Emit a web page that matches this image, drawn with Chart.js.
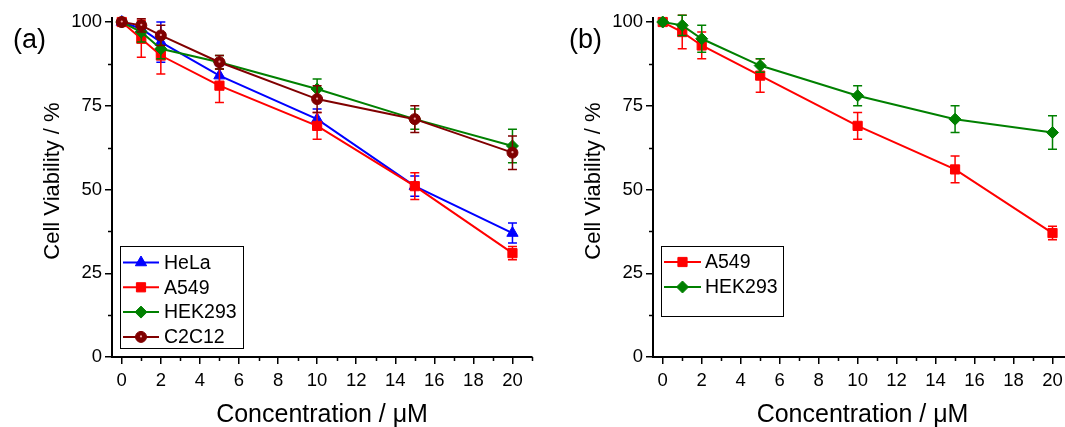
<!DOCTYPE html>
<html>
<head>
<meta charset="utf-8">
<title>Cell viability vs concentration</title>
<script src="https://cdn.jsdelivr.net/npm/chart.js@4.4.1/dist/chart.umd.min.js"></script>
<style>
  html, body { margin: 0; padding: 0; background: #fff; overflow: hidden; width: 1065px; height: 427px; }
  canvas { position: absolute; top: 0; }
  #panelA { left: 0; }
  #panelB { left: 545px; }
</style>
</head>
<body>
<canvas id="panelA" width="545" height="427"></canvas>
<canvas id="panelB" width="540" height="427"></canvas>
<script>
// Concentrations (µM) and tick positions
const concentration = [0, 1, 2, 5, 10, 15, 20];
const xTickValues = [0, 2, 4, 6, 8, 10, 12, 14, 16, 18, 20];
const xMinorValues = [1, 3, 5, 7, 9, 11, 13, 15, 17, 19, 21];
const yTickValues = [0, 25, 50, 75, 100];
const yMinorValues = [12.5, 37.5, 62.5, 87.5];

// Panel (a): viability (%) and standard deviations
const helaA = [100, 98, 94, 84, 71, 51, 37];
const helaAErr = [0, 2, 6, 3, 3, 3, 3];
const a549A = [100, 95, 90, 81, 69, 51, 31];
const a549AErr = [0, 5.5, 5.5, 5, 4, 4, 2];
const hek293A = [100, 97, 92, 88, 80, 71, 63];
const hek293AErr = [0, 3, 3, 2, 3, 3, 5];
const c2c12A = [100, 99, 96, 88, 77, 71, 61];
const c2c12AErr = [0, 2, 3, 2, 4, 4, 5];

// Panel (b)
const a549B = [100, 97, 93, 84, 69, 56, 37];
const a549BErr = [0, 5, 4, 5, 4, 4, 2];
const hek293B = [100, 99, 95, 87, 78, 71, 67];
const hek293BErr = [0, 3, 4, 2, 3, 4, 5];

const FONT = "'Liberation Sans', Arial, Helvetica, sans-serif";
const GLOSS = 'rgba(255,190,190,0.85)';

function toPoints(values) {
  return concentration.map((c, i) => ({ x: c, y: values[i] }));
}

function series(label, values, errors, color, style, radius, order, extra) {
  return Object.assign({
    label,
    data: toPoints(values),
    errors,
    borderColor: color,
    backgroundColor: color,
    pointBackgroundColor: color,
    pointBorderColor: color,
    pointStyle: style,
    pointRadius: radius,
    pointBorderWidth: 1,
    borderWidth: 2,
    tension: 0,
    clip: false,
    order
  }, extra || {});
}

// Marker drawing for the framed legend (same geometry as Chart.js)
function drawMarker(ctx, style, radius, x, y, color) {
  ctx.fillStyle = color; ctx.strokeStyle = color; ctx.lineWidth = 1;
  if (Chart.helpers && Chart.helpers.drawPoint) {
    Chart.helpers.drawPoint(ctx, { pointStyle: style, radius, rotation: 0, borderWidth: 1 }, x, y);
    return;
  }
  ctx.beginPath();
  if (style === 'rect') {
    const s = radius * Math.SQRT1_2;
    ctx.rect(x - s, y - s, 2 * s, 2 * s);
  } else if (style === 'rectRot') {
    ctx.moveTo(x, y - radius); ctx.lineTo(x + radius, y); ctx.lineTo(x, y + radius); ctx.lineTo(x - radius, y); ctx.closePath();
  } else if (style === 'triangle') {
    const h = radius * Math.sin(Math.PI / 3);
    ctx.moveTo(x, y - radius); ctx.lineTo(x + h, y + radius / 2); ctx.lineTo(x - h, y + radius / 2); ctx.closePath();
  } else {
    ctx.arc(x, y, radius, 0, Math.PI * 2);
  }
  ctx.fill(); ctx.stroke();
}

// Vertical error bars with caps, plus a small glossy spot on shaded markers
const errorBars = {
  id: 'errorBars',
  afterDatasetDraw(chart, args) {
    const ds = chart.data.datasets[args.index];
    const { ctx, scales: { x, y } } = chart;
    ctx.save();
    if (ds.errors) {
      ctx.strokeStyle = ds.borderColor;
      ctx.lineWidth = 1.5;
      ctx.beginPath();
      ds.data.forEach((p, i) => {
        const e = ds.errors[i];
        if (!e) return;
        const px = x.getPixelForValue(p.x);
        const top = y.getPixelForValue(p.y + e);
        const bot = y.getPixelForValue(p.y - e);
        ctx.moveTo(px, top); ctx.lineTo(px, bot);
        ctx.moveTo(px - 4.5, top); ctx.lineTo(px + 4.5, top);
        ctx.moveTo(px - 4.5, bot); ctx.lineTo(px + 4.5, bot);
      });
      ctx.stroke();
    }
    if (ds.highlight) {
      ctx.fillStyle = GLOSS;
      args.meta.data.forEach(pt => {
        ctx.beginPath();
        ctx.arc(pt.x, pt.y - 0.5, 1.1, 0, Math.PI * 2);
        ctx.fill();
      });
    }
    ctx.restore();
  }
};

// Short minor tick marks on both axes
const minorTicks = {
  id: 'minorTicks',
  afterDraw(chart) {
    const { ctx, chartArea: a, scales: { x, y } } = chart;
    ctx.save();
    ctx.strokeStyle = '#000';
    ctx.lineWidth = 1.5;
    ctx.beginPath();
    xMinorValues.forEach(v => {
      if (v < x.min || v > x.max) return;
      const px = Math.round(x.getPixelForValue(v)) + 0.5;
      ctx.moveTo(px, a.bottom); ctx.lineTo(px, a.bottom + 4);
    });
    yMinorValues.forEach(v => {
      const py = Math.round(y.getPixelForValue(v)) + 0.5;
      ctx.moveTo(a.left, py); ctx.lineTo(a.left - 4, py);
    });
    ctx.stroke();
    ctx.restore();
  }
};

// Axis titles, panel letter and the framed legend
const panelDecor = {
  id: 'panelDecor',
  afterDraw(chart, args, opts) {
    const { ctx, chartArea: a } = chart;
    ctx.save();
    ctx.fillStyle = '#000';
    // panel letter
    ctx.font = `27px ${FONT}`;
    ctx.textAlign = 'center';
    ctx.textBaseline = 'middle';
    ctx.fillText(opts.letter, opts.letterX, opts.letterY);
    // x title
    ctx.font = `25px ${FONT}`;
    ctx.textBaseline = 'alphabetic';
    ctx.fillText('Concentration / \u03BCM', (a.left + a.right) / 2, opts.xTitleY);
    // y title
    ctx.save();
    ctx.translate(opts.yTitleX, opts.yTitleY);
    ctx.rotate(-Math.PI / 2);
    ctx.font = `22px ${FONT}`;
    ctx.textBaseline = 'alphabetic';
    ctx.fillText('Cell Viability / %', 0, 0);
    ctx.restore();
    // legend box
    const L = opts.legend;
    ctx.strokeStyle = '#000';
    ctx.lineWidth = 1;
    ctx.strokeRect(L.x + 0.5, L.y + 0.5, L.w, L.h);
    ctx.font = `19.5px ${FONT}`;
    ctx.textAlign = 'left';
    ctx.textBaseline = 'middle';
    chart.data.datasets.forEach((ds, i) => {
      const ry = L.firstRow + i * L.rowGap;
      ctx.strokeStyle = ds.borderColor;
      ctx.lineWidth = 2;
      ctx.beginPath();
      ctx.moveTo(L.lineX1, ry); ctx.lineTo(L.lineX2, ry);
      ctx.stroke();
      const mx = (L.lineX1 + L.lineX2) / 2;
      drawMarker(ctx, ds.pointStyle, ds.pointRadius, mx, ry, ds.borderColor);
      if (ds.highlight) {
        ctx.fillStyle = GLOSS;
        ctx.beginPath(); ctx.arc(mx, ry - 0.5, 1.1, 0, Math.PI * 2); ctx.fill();
      }
      ctx.fillStyle = '#000';
      ctx.fillText(ds.label, L.textX, ry + 1);
    });
    ctx.restore();
  }
};

function makeOptions(yWidth, rightPad, decor) {
  return {
    responsive: false,
    animation: false,
    devicePixelRatio: 1,
    layout: { padding: { left: 0, top: 18, right: rightPad, bottom: 0 } },
    plugins: {
      legend: { display: false },
      tooltip: { enabled: false },
      panelDecor: decor
    },
    scales: {
      x: {
        type: 'linear',
        min: -0.5,
        max: 21,
        afterBuildTicks: s => { s.ticks = xTickValues.map(v => ({ value: v })); },
        afterFit: s => { s.height = 70; },
        border: { display: true, color: '#000', width: 2 },
        grid: { drawOnChartArea: false, drawTicks: true, tickLength: 7, color: '#000', lineWidth: 1.5 },
        ticks: { color: '#000', padding: 6, maxRotation: 0, autoSkip: false, font: { family: FONT, size: 18.5 } }
      },
      y: {
        type: 'linear',
        min: 0,
        max: 101.2,
        afterBuildTicks: s => { s.ticks = yTickValues.map(v => ({ value: v })); },
        afterFit: s => { s.width = yWidth; },
        border: { display: true, color: '#000', width: 2 },
        grid: { drawOnChartArea: false, drawTicks: true, tickLength: 7, color: '#000', lineWidth: 1.5 },
        ticks: { color: '#000', padding: 3, autoSkip: false, font: { family: FONT, size: 18.5 } }
      }
    }
  };
}

new Chart(document.getElementById('panelA'), {
  type: 'line',
  data: {
    datasets: [
      series('HeLa', helaA, helaAErr, '#0000ff', 'triangle', 6.5, 4),
      series('A549', a549A, a549AErr, '#ff0000', 'rect', 6.5, 3),
      series('HEK293', hek293A, hek293AErr, '#008000', 'rectRot', 6, 2),
      series('C2C12', c2c12A, c2c12AErr, '#800000', 'circle', 5.5, 1, { highlight: true })
    ]
  },
  options: makeOptions(112, 13, {
    letter: '(a)', letterX: 29.5, letterY: 41,
    xTitleY: 422, yTitleX: 59, yTitleY: 181,
    legend: { x: 120, y: 246, w: 123, h: 102, firstRow: 262.5, rowGap: 24.8, lineX1: 123, lineX2: 159, textX: 164 }
  }),
  plugins: [errorBars, minorTicks, panelDecor]
});

new Chart(document.getElementById('panelB'), {
  type: 'line',
  data: {
    datasets: [
      series('A549', a549B, a549BErr, '#ff0000', 'rect', 6.5, 2),
      series('HEK293', hek293B, hek293BErr, '#008000', 'rectRot', 6, 1)
    ]
  },
  options: makeOptions(108, 13, {
    letter: '(b)', letterX: 40.5, letterY: 41,
    xTitleY: 422, yTitleX: 55, yTitleY: 181,
    legend: { x: 116, y: 246, w: 122, h: 70, firstRow: 262, rowGap: 25, lineX1: 119, lineX2: 156, textX: 160 }
  }),
  plugins: [errorBars, minorTicks, panelDecor]
});
</script>
</body>
</html>
